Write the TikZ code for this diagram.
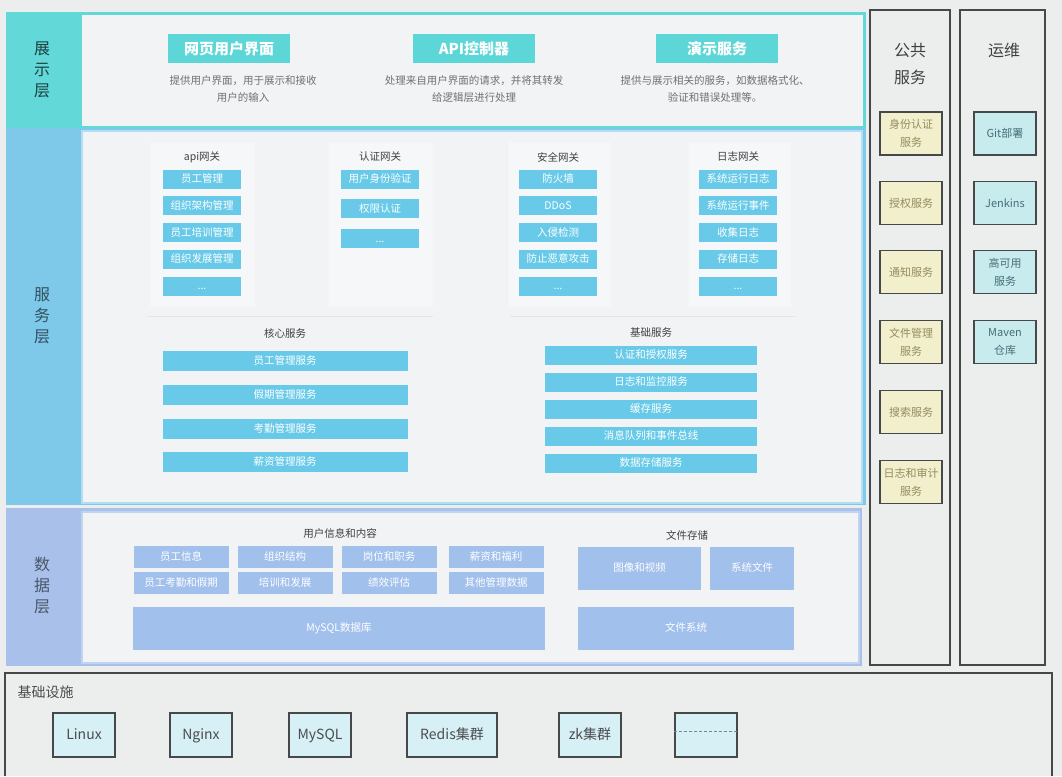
\documentclass[tikz,border=0pt]{standalone}
\usepackage{fontspec}
\setmainfont{Noto Sans CJK SC}
\usetikzlibrary{positioning}
\definecolor{bgpage}{RGB}{236,238,238}
\definecolor{showband}{RGB}{98,216,216}
\definecolor{servband}{RGB}{126,200,234}
\definecolor{databand}{RGB}{168,192,234}
\definecolor{panelfill}{RGB}{241,243,244}
\definecolor{headfill}{RGB}{92,214,214}
\definecolor{svcfill}{RGB}{104,202,232}
\definecolor{datafill}{RGB}{162,192,236}
\definecolor{pubfill}{RGB}{241,239,204}
\definecolor{pubtext}{RGB}{150,140,95}
\definecolor{opsfill}{RGB}{200,236,238}
\definecolor{opstext}{RGB}{70,110,120}
\definecolor{infrafill}{RGB}{214,240,246}
\definecolor{frame}{RGB}{70,72,74}
\definecolor{desctext}{RGB}{110,112,114}

\begin{document}
\begin{tikzpicture}[x=1pt,y=-1pt,
    layername/.style={align=center,font=\fontsize{16}{21}\selectfont},
    head/.style={fill=headfill,text=white,minimum width=122pt,minimum height=29pt,inner sep=0pt,font=\fontsize{15}{17}\selectfont\bfseries},
    desc/.style={text=desctext,align=center,font=\fontsize{10.5}{17}\selectfont},
    grouptitle/.style={text=black!75,font=\fontsize{10.5}{12}\selectfont},
    gate/.style={fill=svcfill,text=white,minimum width=78pt,minimum height=19pt,inner sep=0pt,text height=8.5pt,text depth=2pt,font=\fontsize{10.5}{12}\selectfont},
    svc/.style={gate,minimum width=245pt,minimum height=20pt},
    basesvc/.style={gate,minimum width=212pt},
    dbox/.style={fill=datafill,text=white,minimum width=95pt,minimum height=22pt,inner sep=0pt,text height=8.5pt,text depth=2pt,font=\fontsize{10.5}{12}\selectfont},
    bigdbox/.style={dbox,minimum height=43pt},
    coltitle/.style={text=black!75,align=center,font=\fontsize{16}{27}\selectfont},
    pub/.style={draw=frame,line width=1.2pt,fill=pubfill,text=pubtext,minimum width=62pt,minimum height=43pt,inner sep=0pt,align=center,font=\fontsize{11}{18}\selectfont},
    ops/.style={pub,fill=opsfill,text=opstext},
    infra/.style={draw=frame,line width=1.2pt,fill=infrafill,text=black!70,minimum width=62pt,minimum height=44pt,inner sep=2pt,text height=11pt,text depth=3pt,font=\fontsize{14}{16}\selectfont}]

    \useasboundingbox (0,0) rectangle (1062,776);
    \fill[bgpage] (0,0) rectangle (1062,776);

    % layer bands
    \fill[showband] (6,12) rectangle (866,128);
    \fill[panelfill] (82,15) rectangle (863,126);
    \fill[servband] (6,128) rectangle (866,505);
    \draw[servband!60,fill=panelfill,line width=1.5pt] (82,131) rectangle (862,503);
    \fill[databand] (6,508) rectangle (862,666);
    \draw[databand!70,fill=panelfill,line width=1.5pt] (82,512) rectangle (859,663);

    \node[layername,text=showband!30!black] (showlayer) at (42,70) {展\\示\\层};
    \node[layername,text=servband!40!black] (servlayer) at (42,316) {服\\务\\层};
    \node[layername,text=databand!45!black] (datalayer) at (42,585) {数\\据\\层};

    % 展示层
    \node[head] (webui) at (229,49) {网页用户界面};
    \node[head] (apictl) at (474,49) {API控制器};
    \node[head] (demosvc) at (717,49) {演示服务};
    \node[desc] (webuidesc) at (243,89) {提供用户界面，用于展示和接收\\用户的输入};
    \node[desc] (apictldesc) at (474,89) {处理来自用户界面的请求，并将其转发\\给逻辑层进行处理};
    \node[desc] (demosvcdesc) at (715,89) {提供与展示相关的服务，如数据格式化、\\验证和错误处理等。};

    % 网关
    \draw[black!4,fill=white!35!panelfill] (150,142) rectangle (254,306);
    \draw[black!4,fill=white!35!panelfill] (328,142) rectangle (432,306);
    \draw[black!4,fill=white!35!panelfill] (508,142) rectangle (610,306);
    \draw[black!4,fill=white!35!panelfill] (688,142) rectangle (790,306);
    \draw[black!10] (148,316) -- (433,316);
    \draw[black!10] (510,316) -- (795,316);

    \node[grouptitle] (apigw) at (202,157) {api网关};
    \node[gate] (api1) at (202,179) {员工管理};
    \node[gate] (api2) [below=7.5pt of api1] {组织架构管理};
    \node[gate] (api3) [below=7.5pt of api2] {员工培训管理};
    \node[gate] (api4) [below=7.5pt of api3] {组织发展管理};
    \node[gate] (api5) [below=7.5pt of api4] {...};

    \node[grouptitle] (authgw) at (380,157) {认证网关};
    \node[gate] (auth1) at (380,179) {用户身份验证};
    \node[gate] (auth2) [below=10.5pt of auth1] {权限认证};
    \node[gate] (auth3) [below=10.5pt of auth2] {...};

    \node[grouptitle] (safegw) at (558,157) {安全网关};
    \node[gate] (safe1) at (558,179) {防火墙};
    \node[gate] (safe2) [below=7.5pt of safe1] {DDoS};
    \node[gate] (safe3) [below=7.5pt of safe2] {入侵检测};
    \node[gate] (safe4) [below=7.5pt of safe3] {防止恶意攻击};
    \node[gate] (safe5) [below=7.5pt of safe4] {...};

    \node[grouptitle] (loggw) at (738,157) {日志网关};
    \node[gate] (log1) at (738,179) {系统运行日志};
    \node[gate] (log2) [below=7.5pt of log1] {系统运行事件};
    \node[gate] (log3) [below=7.5pt of log2] {收集日志};
    \node[gate] (log4) [below=7.5pt of log3] {存储日志};
    \node[gate] (log5) [below=7.5pt of log4] {...};

    % 核心服务 / 基础服务
    \node[grouptitle] (coresvc) at (285,333) {核心服务};
    \node[svc] (core1) at (285,361) {员工管理服务};
    \node[svc] (core2) [below=14pt of core1] {假期管理服务};
    \node[svc] (core3) [below=13pt of core2] {考勤管理服务};
    \node[svc] (core4) [below=13pt of core3] {薪资管理服务};

    \node[grouptitle] (basesvcs) at (651,333) {基础服务};
    \node[basesvc] (base1) at (651,355.5) {认证和授权服务};
    \node[basesvc] (base2) [below=7.5pt of base1] {日志和监控服务};
    \node[basesvc] (base3) [below=7.5pt of base2] {缓存服务};
    \node[basesvc] (base4) [below=7.5pt of base3] {消息队列和事件总线};
    \node[basesvc] (base5) [below=7.5pt of base4] {数据存储服务};

    % 数据层
    \node[grouptitle] (userdata) at (340,533) {用户信息和内容};
    \node[dbox] (emp) at (181,557) {员工信息};
    \node[dbox] (org) at (285,557) {组织结构};
    \node[dbox] (post) at (389,557) {岗位和职务};
    \node[dbox] (pay) at (496,557) {薪资和福利};
    \node[dbox] (attend) at (181,583) {员工考勤和假期};
    \node[dbox] (train) at (285,583) {培训和发展};
    \node[dbox] (perf) at (389,583) {绩效评估};
    \node[dbox] (other) at (496,583) {其他管理数据};
    \node[bigdbox,minimum width=412pt] (mysqldb) at (339,628.5) {MySQL数据库};

    \node[grouptitle] (filestore) at (687,535) {文件存储};
    \node[bigdbox,minimum width=123pt] (media) at (639.5,568.5) {图像和视频};
    \node[bigdbox,minimum width=84pt] (sysfile) at (752,568.5) {系统文件};
    \node[bigdbox,minimum width=216pt] (filesys) at (686,628.5) {文件系统};

    % 公共服务 / 运维
    \draw[frame,line width=1.5pt] (870,10) rectangle (950,665);
    \draw[frame,line width=1.5pt] (960,10) rectangle (1045,665);
    \node[coltitle] (pubtitle) at (910,64) {公共\\服务};
    \node[coltitle] (opstitle) at (1004,50) {运维};

    \node[pub] (idauth) at (911,133.5) {身份认证\\服务};
    \node[pub] (grant) at (911,203) {授权服务};
    \node[pub] (notify) at (911,272) {通知服务};
    \node[pub] (filemgr) at (911,342) {文件管理\\服务};
    \node[pub] (search) at (911,412) {搜索服务};
    \node[pub] (audit) at (911,482) {日志和审计\\服务};

    \node[ops] (git) at (1005,133.5) {Git部署};
    \node[ops] (jenkins) at (1005,203) {Jenkins};
    \node[ops] (ha) at (1005,272) {高可用\\服务};
    \node[ops] (maven) at (1005,342) {Maven\\仓库};

    % 基础设施
    \draw[frame,line width=1.5pt] (5,776) -- (5,673) -- (1052,673) -- (1052,776);
    \node[anchor=west,text=black!70,font=\fontsize{14}{16}\selectfont] (infratitle) at (14,692) {基础设施};
    \node[infra] (linux) at (84,735) {Linux};
    \node[infra] (nginx) at (201,735) {Nginx};
    \node[infra] (mysql) at (320,735) {MySQL};
    \node[infra,minimum width=90pt] (redis) at (452,735) {Redis集群};
    \node[infra] (zk) at (590,735) {zk集群};
    \node[infra] (more) at (706,735) {};
    \draw[densely dashed,opstext!80] ([yshift=4pt]more.west) -- ([yshift=4pt]more.east);
\end{tikzpicture}
\end{document}
